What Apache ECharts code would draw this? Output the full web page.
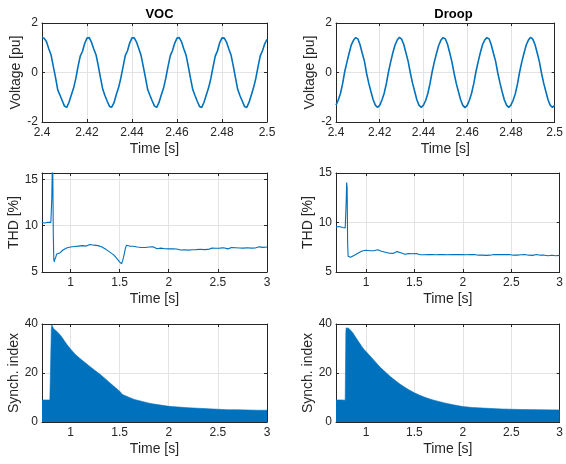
<!DOCTYPE html>
<html>
<head>
<meta charset="utf-8">
<script src="https://cdn.jsdelivr.net/npm/echarts@6/dist/echarts.min.js"></script>
<style>html,body{margin:0;padding:0;background:#fff}#c{width:566px;height:464px}</style>
</head>
<body>
<div id="c"></div>
<script>
// ---------- data ----------
const vStart = 2.4, vStep = 0.001;
const vocVoltage = [
 1.41,1.38,1.24,0.96,0.72,0.26,-0.20,-0.70,-0.92,-1.14,
 -1.36,-1.41,-1.20,-0.92,-0.64,-0.26,0.24,0.66,0.86,1.18,
 1.39,1.41,1.22,0.95,0.72,0.28,-0.22,-0.68,-0.94,-1.16,
 -1.37,-1.40,-1.22,-0.90,-0.62,-0.24,0.22,0.68,0.88,1.20,
 1.40,1.40,1.23,0.97,0.70,0.25,-0.22,-0.70,-0.93,-1.15,
 -1.36,-1.41,-1.21,-0.91,-0.64,-0.24,0.24,0.67,0.89,1.19,
 1.39,1.41,1.24,0.96,0.71,0.26,-0.23,-0.69,-0.93,-1.16,
 -1.37,-1.41,-1.20,-0.91,-0.63,-0.26,0.22,0.66,0.88,1.21,
 1.40,1.39,1.23,0.96,0.71,0.27,-0.22,-0.69,-0.94,-1.15,
 -1.37,-1.41,-1.21,-0.92,-0.62,-0.25,0.23,0.67,0.88,1.16,
 1.34];
const droopVoltage = [
 -1.32,-1.12,-0.86,-0.46,0.04,0.42,0.78,1.12,1.30,1.41,
 1.36,1.12,0.78,0.46,-0.04,-0.44,-0.78,-1.10,-1.32,-1.41,
 -1.33,-1.11,-0.85,-0.46,0.02,0.43,0.80,1.11,1.31,1.42,
 1.35,1.13,0.79,0.45,-0.02,-0.43,-0.77,-1.11,-1.33,-1.41,
 -1.32,-1.13,-0.85,-0.44,0.04,0.44,0.79,1.10,1.31,1.41,
 1.36,1.14,0.80,0.44,-0.03,-0.44,-0.78,-1.10,-1.33,-1.42,
 -1.33,-1.12,-0.84,-0.45,0.03,0.43,0.80,1.12,1.31,1.41,
 1.36,1.12,0.78,0.45,-0.02,-0.43,-0.79,-1.11,-1.32,-1.41,
 -1.32,-1.12,-0.86,-0.46,0.03,0.44,0.79,1.11,1.31,1.42,
 1.35,1.13,0.80,0.44,-0.03,-0.44,-0.78,-1.11,-1.33,-1.41,
 -1.33];

const thdVocT = [0.71,0.72,0.73,0.74,0.75,0.76,0.77,0.78,0.79,0.80,0.805,0.81,0.815,0.82,0.825,0.83,0.835,0.84,0.85,0.86,0.87,0.88,0.89,0.90,0.92,0.94,0.96,0.98,
 1.00,1.02,1.04,1.06,1.08,1.10,1.12,1.14,1.16,1.18,1.20,1.22,1.24,1.26,1.28,1.30,1.32,1.34,1.36,1.38,1.40,1.42,1.44,1.46,1.48,1.50,1.51,1.52,1.53,1.54,1.55,1.56,1.57,1.58,
 1.60,1.62,1.64,1.66,1.68,1.70,1.72,1.74,1.76,1.78,1.80,1.82,1.84,1.86,1.88,1.90,1.92,1.94,1.96,1.98,
 2.00,2.02,2.04,2.06,2.08,2.10,2.12,2.14,2.16,2.18,2.20,2.22,2.24,2.26,2.28,2.30,2.32,2.34,2.36,2.38,
 2.40,2.42,2.44,2.46,2.48,2.50,2.52,2.54,2.56,2.58,2.60,2.62,2.64,2.66,2.68,2.70,2.72,2.74,2.76,2.78,
 2.80,2.82,2.84,2.86,2.88,2.90,2.92,2.94,2.96,2.98,3.00];
const thdVocV = [10.35,10.28,10.40,10.30,10.42,10.28,10.38,10.30,10.44,10.36,10.5,13.0,16.5,15.5,9.0,6.4,6.1,6.35,6.6,6.95,6.75,6.9,7.05,7.1,7.35,7.5,7.6,7.55,
 7.7,7.65,7.75,7.7,7.8,7.7,7.85,7.75,7.8,7.9,7.98,7.85,7.9,7.75,7.85,7.7,7.7,7.55,7.45,7.25,7.15,6.95,6.85,6.6,6.45,6.1,5.95,5.88,6.2,6.6,7.1,7.6,7.9,7.92,
 7.8,7.72,7.78,7.62,7.7,7.6,7.65,7.52,7.65,7.75,7.7,7.85,7.72,7.68,7.52,7.5,7.58,7.42,7.52,7.44,
 7.5,7.42,7.52,7.38,7.48,7.5,7.38,7.46,7.4,7.48,7.36,7.46,7.4,7.52,7.42,7.38,7.46,7.52,7.42,7.5,
 7.44,7.52,7.58,7.48,7.56,7.5,7.58,7.48,7.62,7.52,7.5,7.58,7.64,7.52,7.62,7.54,7.6,7.68,7.58,7.55,
 7.62,7.66,7.58,7.68,7.6,7.66,7.72,7.6,7.66,7.74,7.7];

const thdDroopT = [0.69,0.70,0.72,0.74,0.76,0.77,0.78,0.785,0.79,0.795,0.80,0.805,0.81,0.815,0.82,0.84,0.86,0.88,0.90,0.92,0.94,0.96,0.98,
 1.00,1.02,1.04,1.06,1.08,1.10,1.12,1.14,1.16,1.18,1.20,1.22,1.24,1.26,1.28,1.30,1.32,1.34,1.36,1.38,1.40,1.42,1.44,1.46,1.48,
 1.50,1.52,1.54,1.56,1.58,1.60,1.62,1.64,1.66,1.68,1.70,1.72,1.74,1.76,1.78,1.80,1.82,1.84,1.86,1.88,1.90,1.92,1.94,1.96,1.98,
 2.00,2.02,2.04,2.06,2.08,2.10,2.12,2.14,2.16,2.18,2.20,2.22,2.24,2.26,2.28,2.30,2.32,2.34,2.36,2.38,
 2.40,2.42,2.44,2.46,2.48,2.50,2.52,2.54,2.56,2.58,2.60,2.62,2.64,2.66,2.68,2.70,2.72,2.74,2.76,2.78,
 2.80,2.82,2.84,2.86,2.88,2.90,2.92,2.94,2.96,2.98,3.00];
const thdDroopV = [9.55,9.58,9.6,9.52,9.5,9.4,9.35,9.45,9.6,12.0,14.05,13.5,8.0,6.6,6.55,6.48,6.62,6.7,6.82,6.92,7.02,7.12,7.22,
 7.2,7.24,7.15,7.22,7.14,7.22,7.24,7.14,7.1,7.04,7.0,6.92,6.9,6.97,6.88,7.02,7.06,6.98,6.95,6.84,6.8,6.78,6.86,6.92,6.84,
 6.92,6.86,6.8,6.74,6.82,6.74,6.8,6.76,6.7,6.77,6.82,6.74,6.8,6.76,6.7,6.76,6.82,6.74,6.8,6.76,6.7,6.77,6.7,6.76,6.8,
 6.76,6.82,6.74,6.7,6.76,6.7,6.76,6.68,6.7,6.76,6.7,6.76,6.68,6.76,6.7,6.7,6.77,6.68,6.76,6.7,
 6.76,6.7,6.77,6.68,6.76,6.7,6.7,6.77,6.7,6.76,6.74,6.68,6.76,6.7,6.7,6.77,6.68,6.7,6.76,6.7,
 6.7,6.76,6.7,6.68,6.64,6.6,6.7,6.76,6.64,6.7,6.68];

const syncVocT = [0.71,0.75,0.79,0.80,0.805,0.81,0.82,0.83,0.84,0.86,0.88,0.90,0.92,0.94,0.96,0.98,1.00,1.05,1.10,1.15,1.20,1.25,1.30,1.35,1.40,1.45,1.50,1.53,1.55,1.60,1.65,1.70,1.75,1.80,1.85,1.90,1.95,2.00,2.10,2.20,2.30,2.40,2.50,2.60,2.70,2.80,2.90,3.00];
const syncVocV = [9.0,9.0,9.0,9.0,38.0,39.6,39.4,38.0,37.2,37.0,36.3,35.3,34.2,33.0,31.8,30.8,29.8,27.6,25.8,24.2,22.6,21.0,19.5,17.8,16.0,14.3,12.6,11.2,10.7,10.0,9.2,8.7,8.2,7.7,7.3,7.0,6.7,6.4,6.1,5.8,5.6,5.4,5.2,5.0,5.0,4.9,4.8,4.8];
const syncDroopT = [0.69,0.75,0.785,0.79,0.792,0.795,0.80,0.82,0.84,0.86,0.88,0.90,0.92,0.94,0.96,0.98,1.00,1.05,1.10,1.15,1.20,1.25,1.30,1.35,1.40,1.45,1.50,1.55,1.60,1.65,1.70,1.80,1.90,2.00,2.10,2.20,2.30,2.40,2.50,2.60,2.80,3.00];
const syncDroopV = [9.0,9.0,8.9,8.9,37.0,38.4,38.5,38.3,37.6,36.6,35.4,34.2,33.0,31.8,30.6,29.6,28.8,26.6,24.4,22.2,20.4,18.6,17.0,15.5,14.2,13.0,11.9,11.0,10.2,9.5,8.9,7.9,7.0,6.3,5.9,5.7,5.5,5.3,5.2,5.1,5.0,4.9];

const voltTicksX = [2.4,2.42,2.44,2.46,2.48,2.5];
const voltTicksY = [-2,0,2];
const timeTicks = [1,1.5,2,2.5,3];
const thdTicks = [5,10,15];
const syncTicks = [0,20,40];

// ---------- layout ----------
const C = '#0072BD', INK = '#262626', GRIDC = '#e3e3e3';
const FONT = '"Liberation Sans", Arial, Helvetica, sans-serif';
const panels = [
  {left:42, top:23, h:99, xmin:2.4, xmax:2.5, xt:voltTicksX, ymin:-2, ymax:2, yt:voltTicksY, yname:'Voltage [pu]'},
  {left:336, top:23, h:99, xmin:2.4, xmax:2.5, xt:voltTicksX, ymin:-2, ymax:2, yt:voltTicksY, yname:'Voltage [pu]'},
  {left:42, top:173, h:99, xmin:0.71, xmax:3, xt:timeTicks, ymin:5, ymax:15.7, yt:thdTicks, yname:'THD [%]'},
  {left:336, top:173, h:99, xmin:0.69, xmax:3, xt:timeTicks, ymin:5, ymax:15, yt:thdTicks, yname:'THD [%]'},
  {left:42, top:324, h:98, xmin:0.71, xmax:3, xt:timeTicks, ymin:0, ymax:40, yt:syncTicks, yname:'Synch. index'},
  {left:336, top:324, h:98, xmin:0.69, xmax:3, xt:timeTicks, ymin:0, ymax:40, yt:syncTicks, yname:'Synch. index'}
];
const W = 225;
const grid = [], xAxis = [], yAxis = [];
panels.forEach((p, i) => {
  grid.push({left:p.left, top:p.top, width:W, height:p.h, containLabel:false});
  const line = {show:true, onZero:false, lineStyle:{color:INK, width:1}};
  const tick = (vals) => ({show:true, inside:true, length:3, lineStyle:{color:INK, width:1}, customValues:vals});
  xAxis.push({type:'value', gridIndex:i, position:'bottom', min:p.xmin, max:p.xmax,
    axisLine:line, axisTick:tick(p.xt),
    axisLabel:{customValues:p.xt, color:INK, fontSize:12, fontFamily:FONT, margin:5, showMinLabel:true, showMaxLabel:true},
    splitLine:{show:true, lineStyle:{color:GRIDC, width:1}},
    name:'Time [s]', nameLocation:'middle', nameGap:20, nameTextStyle:{color:INK, fontSize:14, fontFamily:FONT}});
  xAxis.push({type:'value', gridIndex:i, position:'top', min:p.xmin, max:p.xmax,
    axisLine:line, axisTick:tick(p.xt), axisLabel:{show:false}, splitLine:{show:false}});
  yAxis.push({type:'value', gridIndex:i, position:'left', min:p.ymin, max:p.ymax,
    axisLine:line, axisTick:tick(p.yt),
    axisLabel:{customValues:p.yt, color:INK, fontSize:12, fontFamily:FONT, margin:4},
    splitLine:{show:true, lineStyle:{color:GRIDC, width:1}},
    name:p.yname, nameLocation:'middle', nameGap:16, nameRotate:90, nameTextStyle:{color:INK, fontSize:14, fontFamily:FONT}});
  yAxis.push({type:'value', gridIndex:i, position:'right', min:p.ymin, max:p.ymax,
    axisLine:line, axisTick:tick(p.yt), axisLabel:{show:false}, splitLine:{show:false}});
});

const vTimes = vocVoltage.map((_, i) => +(vStart + i * vStep).toFixed(4));
const pairs = (xs, ys) => xs.map((x, i) => [x, ys[i]]);
const lineSeries = (idx, data, w, area) => ({
  type:'line', xAxisIndex:2*idx, yAxisIndex:2*idx, data, showSymbol:false, symbol:'none',
  smooth:false, clip:true, animation:false,
  lineStyle:{color:C, width:w}, itemStyle:{color:C},
  areaStyle: area ? {color:C, opacity:1, origin:'start'} : undefined
});

const series = [
  lineSeries(0, pairs(vTimes, vocVoltage), 1.6),
  lineSeries(1, pairs(vTimes, droopVoltage), 1.6),
  lineSeries(2, pairs(thdVocT, thdVocV), 1.1),
  lineSeries(3, pairs(thdDroopT, thdDroopV), 1.1),
  lineSeries(4, pairs(syncVocT, syncVocV), 0.6, true),
  lineSeries(5, pairs(syncDroopT, syncDroopV), 0.6, true)
];

const chart = echarts.init(document.getElementById('c'), null, {renderer:'canvas'});
chart.setOption({
  animation:false,
  backgroundColor:'#fff',
  title:[
    {text:'VOC', left:154.5, top:3, textAlign:'center', textStyle:{fontSize:13, fontWeight:'bold', color:'#000', fontFamily:FONT}},
    {text:'Droop', left:448.5, top:3, textAlign:'center', textStyle:{fontSize:13, fontWeight:'bold', color:'#000', fontFamily:FONT}}
  ],
  grid, xAxis, yAxis, series
});
</script>
</body>
</html>
